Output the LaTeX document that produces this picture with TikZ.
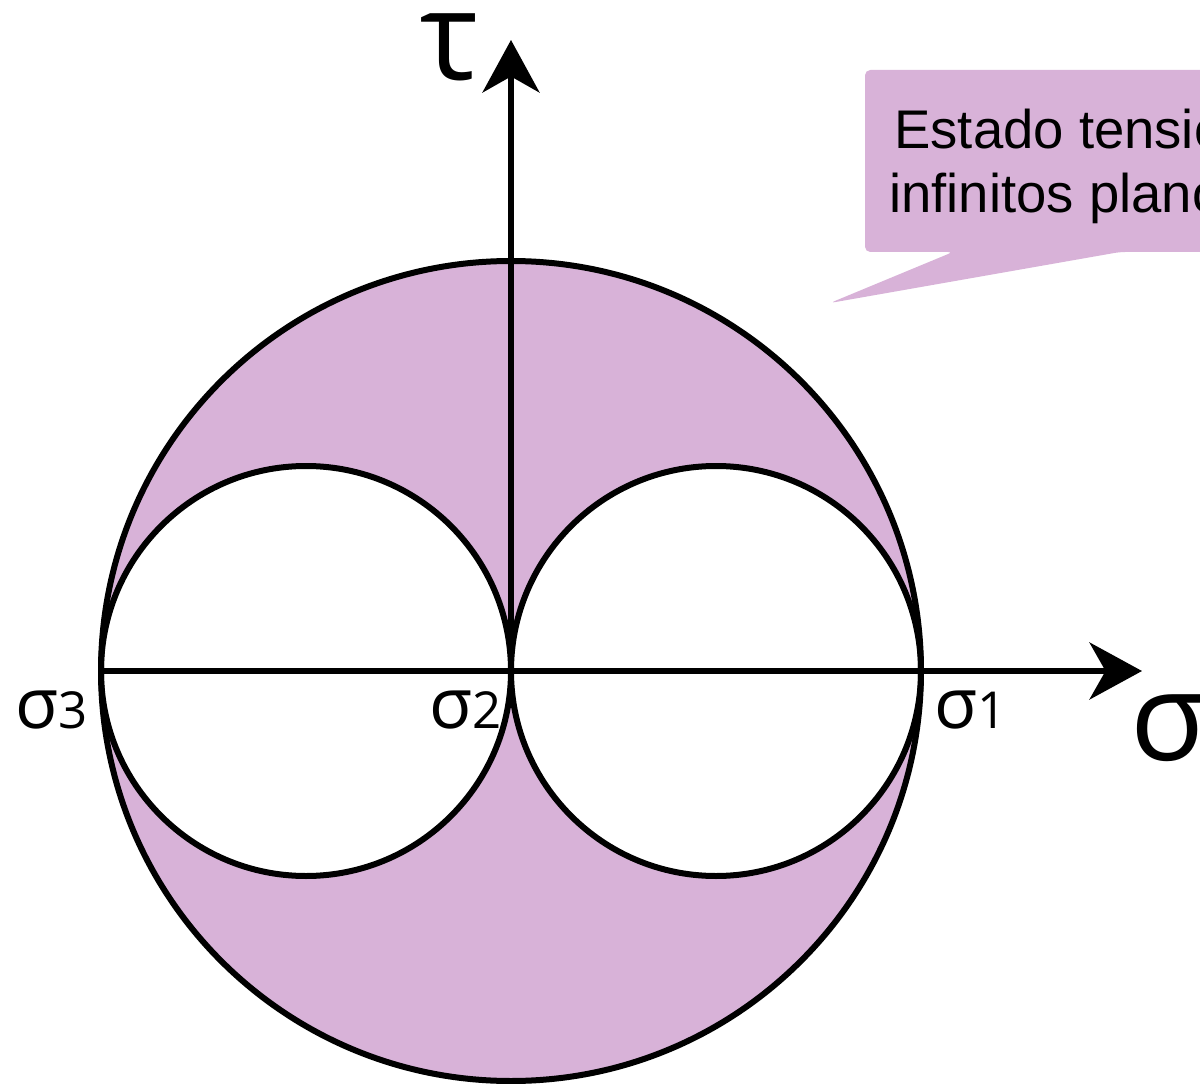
\documentclass[tikz,border=0pt]{standalone}
\usepackage{fontspec}
\setmainfont{Liberation Sans}
\newfontfamily\grk{Open Sans}
\usetikzlibrary{arrows.meta}
\definecolor{lila}{RGB}{216,178,216}
\begin{document}
\begin{tikzpicture}[x=0.02cm,y=-0.02cm,
  outline/.style={draw=black,line width=0.12cm},
  axisline/.style={draw=black,line width=0.11cm,-{Stealth[length=1.05cm,width=1.14cm,inset=0.32cm]}},
  biglbl/.style={font=\grk\fontsize{70pt}{70pt}\selectfont,inner sep=0pt},
  ptlbl/.style={font=\grk\fontsize{40pt}{40pt}\selectfont,inner sep=0pt,anchor=base west},
  calltext/.style={font=\fontsize{31pt}{31pt}\selectfont,inner sep=0pt,anchor=base west}]
\useasboundingbox (0,0) rectangle (1200,1084);
\clip (0,0) rectangle (1200,1084);
% callout
\path[fill=lila,rounded corners=3] (865,70) -- (1230,70) -- (1230,252) -- (1120,252) -- (830,303) -- (953,252) -- (865,252) -- cycle;
\node[calltext] (t1) at (894,149) {Estado tensional en};
\node[calltext] (t2) at (889,213) {infinitos planos};
% circles
\coordinate (O) at (511,671);
\coordinate (L) at (306,671);
\coordinate (R) at (716,671);
\fill[lila] (O) circle (410);
\fill[white] (L) circle (205);
\fill[white] (R) circle (205);
\draw[outline] (O) circle (410);
\draw[outline] (L) circle (205);
\draw[outline] (R) circle (205);
% axes
\coordinate (s3) at (101,671);
\coordinate (xend) at (1142,671);
\coordinate (yend) at (511,40);
\draw[axisline] (s3) -- (xend);
\draw[axisline] (O) -- (yend);
% labels
\node[biglbl,anchor=base,text height=0.55em,text depth=0pt] (tau) at (450,80) {τ};
\node[biglbl,anchor=base west] (sig) at (1130,760) {σ};
\node[ptlbl] (l3) at (15,728) {σ\fontsize{29pt}{29pt}\selectfont 3};
\node[ptlbl] (l2) at (429,728) {σ\fontsize{29pt}{29pt}\selectfont 2};
\node[ptlbl] (l1) at (934,728) {σ\fontsize{29pt}{29pt}\selectfont 1};
\end{tikzpicture}
\end{document}
